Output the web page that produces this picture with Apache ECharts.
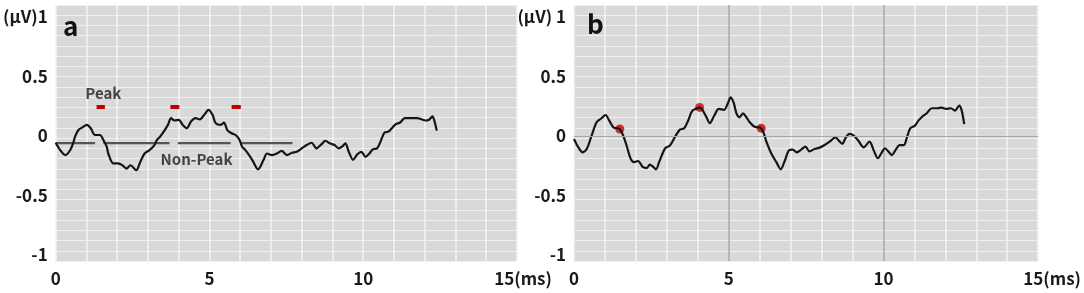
<!DOCTYPE html>
<html lang="en">
<head>
    <meta charset="UTF-8">
    <title>Peak / Non-Peak</title>
    <script src="https://cdn.jsdelivr.net/npm/echarts@6/dist/echarts.min.js"></script>
    <style>
        html, body { margin: 0; padding: 0; background: #fff; }
        #chart { width: 1084px; height: 293px; }
    </style>
</head>
<body>
<div id="chart"></div>
<script type="text/javascript">
	// panel a: waveform (ms, μV)
	var tA = [0, 0.15, 0.31, 0.47, 0.58, 0.63, 0.74, 0.88, 1.01, 1.14, 1.28, 1.44, 1.55, 1.66, 1.71, 1.87, 2.03, 2.17, 2.3, 2.43, 2.62, 2.75, 2.89, 3.05, 3.21, 3.29, 3.38, 3.48, 3.65, 3.75, 3.86, 4.0, 4.13, 4.26, 4.4, 4.54, 4.69, 4.83, 4.97, 5.1, 5.2, 5.37, 5.47, 5.58, 5.72, 5.85, 5.98, 6.06, 6.17, 6.39, 6.58, 6.76, 6.87, 7.03, 7.19, 7.35, 7.52, 7.68, 7.84, 8.0, 8.16, 8.32, 8.48, 8.65, 8.77, 8.91, 9.07, 9.2, 9.31, 9.42, 9.53, 9.67, 9.81, 9.94, 10.07, 10.2, 10.31, 10.45, 10.56, 10.69, 10.82, 10.96, 11.06, 11.2, 11.35, 11.55, 11.76, 11.89, 12.03, 12.14, 12.25, 12.32, 12.39];
	var vA = [-0.057, -0.12, -0.16, -0.12, -0.05, -0.005, 0.05, 0.074, 0.093, 0.065, 0.008, 0.008, -0.034, -0.09, -0.147, -0.23, -0.23, -0.246, -0.274, -0.246, -0.288, -0.218, -0.147, -0.119, -0.076, -0.034, -0.01, 0.023, 0.093, 0.15, 0.13, 0.136, 0.093, 0.065, 0.121, 0.15, 0.14, 0.178, 0.22, 0.178, 0.108, 0.093, 0.113, 0.05, 0.023, 0.008, -0.034, -0.09, -0.119, -0.2, -0.28, -0.2, -0.147, -0.16, -0.147, -0.125, -0.16, -0.141, -0.133, -0.104, -0.076, -0.057, -0.104, -0.068, -0.04, -0.062, -0.076, -0.104, -0.09, -0.062, -0.133, -0.2, -0.153, -0.133, -0.175, -0.147, -0.113, -0.104, -0.048, 0.028, 0.036, 0.074, 0.1, 0.113, 0.15, 0.15, 0.15, 0.14, 0.13, 0.136, 0.164, 0.121, 0.045];

	// panel a: peak / non-peak windows
	var peakStart = [1.33, 3.73, 5.72];
	var peakEnd = [1.6, 4.02, 6.02];
	var peakLevel = 0.243;
	var nonPeakStart = [0, 1.55, 3.97, 6.01];
	var nonPeakEnd = [1.28, 3.7, 5.69, 7.7];
	var nonPeakLevel = -0.06;

	// panel b: waveform (ms, μV)
	var tB = [0, 0.14, 0.28, 0.41, 0.57, 0.73, 0.89, 1.02, 1.14, 1.27, 1.38, 1.48, 1.59, 1.7, 1.83, 1.94, 2.07, 2.22, 2.35, 2.45, 2.56, 2.65, 2.75, 2.88, 2.96, 3.1, 3.26, 3.42, 3.56, 3.69, 3.82, 3.96, 4.06, 4.17, 4.28, 4.39, 4.53, 4.68, 4.85, 4.98, 5.06, 5.16, 5.25, 5.35, 5.46, 5.57, 5.68, 5.82, 5.95, 6.05, 6.14, 6.22, 6.38, 6.54, 6.68, 6.81, 6.95, 7.07, 7.2, 7.34, 7.48, 7.61, 7.77, 7.94, 8.1, 8.26, 8.45, 8.56, 8.67, 8.77, 8.9, 9.04, 9.19, 9.36, 9.55, 9.69, 9.82, 9.95, 10.05, 10.16, 10.27, 10.41, 10.52, 10.66, 10.76, 10.87, 11.02, 11.13, 11.27, 11.41, 11.56, 11.75, 11.88, 12.02, 12.18, 12.31, 12.45, 12.53, 12.61];
	var vB = [-0.025, -0.095, -0.137, -0.11, 0.003, 0.115, 0.149, 0.176, 0.129, 0.073, 0.065, 0.059, 0.003, -0.08, -0.19, -0.22, -0.21, -0.26, -0.27, -0.24, -0.26, -0.28, -0.22, -0.137, -0.1, -0.08, -0.01, 0.053, 0.065, 0.13, 0.21, 0.23, 0.24, 0.21, 0.157, 0.107, 0.17, 0.227, 0.22, 0.28, 0.325, 0.28, 0.19, 0.157, 0.19, 0.157, 0.115, 0.08, 0.073, 0.065, 0.017, -0.05, -0.15, -0.22, -0.28, -0.21, -0.12, -0.115, -0.137, -0.115, -0.09, -0.13, -0.11, -0.098, -0.076, -0.048, -0.011, -0.039, -0.067, -0.02, 0.017, 0.003, -0.04, -0.095, -0.048, -0.123, -0.187, -0.137, -0.103, -0.13, -0.16, -0.11, -0.076, -0.076, -0.011, 0.065, 0.087, 0.129, 0.166, 0.193, 0.233, 0.233, 0.238, 0.227, 0.233, 0.213, 0.255, 0.213, 0.1];

	// panel b: detected peaks
	var dotT = [1.48, 4.06, 6.05];
	var dotV = [0.059, 0.24, 0.065];

	var yTicks = {'1': '(μV)1', '0.5': '0.5', '0': '0', '-0.5': '-0.5', '-1': '-1'};
	var yTicksB = {'1': '(μV) 1', '0.5': '0.5', '0': '0', '-0.5': '-0.5', '-1': '-1'};
	var xTicks = {'0': '0', '5': '5', '10': '10', '15': '15(ms)'};

	function pairs(ts, vs) {
		var out = [];
		for (var i = 0; i < ts.length; i++) {
			out.push([ts[i], vs[i]]);
		}
		return out;
	}

	function segments(starts, ends, level) {
		var out = [];
		for (var i = 0; i < starts.length; i++) {
			out.push([starts[i], level]);
			out.push([ends[i], level]);
			out.push([ends[i], '-']);
		}
		return out;
	}

	var font = 'Noto Sans CJK SC';
	var textColor = '#1a1a1a';
	var white = '#f4f4f4';

	function makeX(idx, dark, lastPad) {
		var colors = white;
		if (dark) {
			// only the 5 and 10 lines are grey in panel b
			colors = [];
			for (var i = 0; i <= 15; i++) {
				colors.push(i === 5 || i === 10 ? '#a8a8a8' : white);
			}
		}
		return {
			type: 'value', gridIndex: idx, min: 0, max: 15, interval: 1,
			axisLine: {show: false}, axisTick: {show: false},
			axisLabel: {
				margin: 9, fontSize: 17, fontWeight: 600, color: textColor, fontFamily: font,
				formatter: function (v) {
					var r = Math.round(v);
					if (Math.abs(v - r) > 1e-6 || xTicks[String(r)] === undefined) return '';
					return r === 15 ? '{e|' + xTicks['15'] + '}' : xTicks[String(r)];
				},
				rich: {
					e: {padding: [0, 0, 0, lastPad], fontSize: 17, fontWeight: 600, color: textColor, fontFamily: font}
				}
			},
			splitLine: {
				show: true,
				lineStyle: {color: colors, width: 1.5}
			}
		};
	}

	function makeYLabels(idx, ticks) {
		return {
			type: 'value', gridIndex: idx, min: -1.05, max: 1.1, interval: 0.05,
			axisLine: {show: false}, axisTick: {show: false}, splitLine: {show: false},
			axisLabel: {
				margin: 8, fontSize: 17, fontWeight: 600, color: textColor, fontFamily: font,
				formatter: function (v) {
					var h = Math.round(v * 2) / 2;
					if (Math.abs(v - h) > 1e-6) return '';
					var s = ticks[String(h)];
					return s === undefined ? '' : s;
				}
			}
		};
	}

	function makeYGrid(idx) {
		return {
			type: 'value', gridIndex: idx, min: -1.05, max: 1.1, interval: 0.086,
			axisLine: {show: false}, axisTick: {show: false}, axisLabel: {show: false},
			splitLine: {show: true, lineStyle: {color: '#efefef', width: 1.2}}
		};
	}

	var chart = echarts.init(document.getElementById('chart'));
	var option = {
		animation: false,
		backgroundColor: '#ffffff',
		title: [
			{text: 'a', left: 58, top: 8, textStyle: {fontSize: 26, fontWeight: 'bold', color: '#111', fontFamily: font}},
			{text: 'b', left: 582, top: 6, textStyle: {fontSize: 26, fontWeight: 'bold', color: '#111', fontFamily: font}}
		],
		grid: [
			{left: 52, top: 5, width: 465, height: 256, show: true, backgroundColor: '#d9d9d9', borderWidth: 0},
			{left: 574, top: 5, width: 466, height: 256, show: true, backgroundColor: '#d9d9d9', borderWidth: 0}
		],
		xAxis: [makeX(0, false, 12), makeX(1, true, 28)],
		yAxis: [makeYLabels(0, yTicks), makeYGrid(0), makeYLabels(1, yTicksB), makeYGrid(1)],
		series: [
			{
				type: 'line', xAxisIndex: 0, yAxisIndex: 0, data: segments(nonPeakStart, nonPeakEnd, nonPeakLevel),
				showSymbol: false, lineStyle: {color: '#555555', width: 2.2}, connectNulls: false, silent: true
			},
			{
				type: 'line', xAxisIndex: 0, yAxisIndex: 0, data: pairs(tA, vA),
				showSymbol: false, smooth: 0.3, lineStyle: {color: '#151515', width: 2.2}
			},
			{
				type: 'line', xAxisIndex: 0, yAxisIndex: 0, data: segments(peakStart, peakEnd, peakLevel),
				showSymbol: false, lineStyle: {color: '#c00000', width: 4}, connectNulls: false, silent: true
			},
			{
				type: 'scatter', xAxisIndex: 0, yAxisIndex: 0, symbolSize: 0,
				data: [[1.55, 0.36, 'Peak'], [4.58, -0.2, 'Non-Peak']],
				label: {
					show: true, position: 'inside', fontSize: 15, fontWeight: 600, color: textColor, fontFamily: font,
					formatter: function (p) { return p.data[2]; }
				}
			},
			{
				type: 'line', xAxisIndex: 1, yAxisIndex: 2, data: pairs(tB, vB),
				showSymbol: false, smooth: 0.3, lineStyle: {color: '#151515', width: 2.2},
				markLine: {
					silent: true, symbol: 'none', label: {show: false},
					lineStyle: {color: '#a8a8a8', width: 1, type: 'solid'},
					data: [{yAxis: 0}]
				}
			},
			{
				type: 'scatter', xAxisIndex: 1, yAxisIndex: 2, data: pairs(dotT, dotV),
				symbolSize: 9, itemStyle: {color: '#cc0000'}
			}
		]
	};
	chart.setOption(option);
</script>
</body>
</html>
